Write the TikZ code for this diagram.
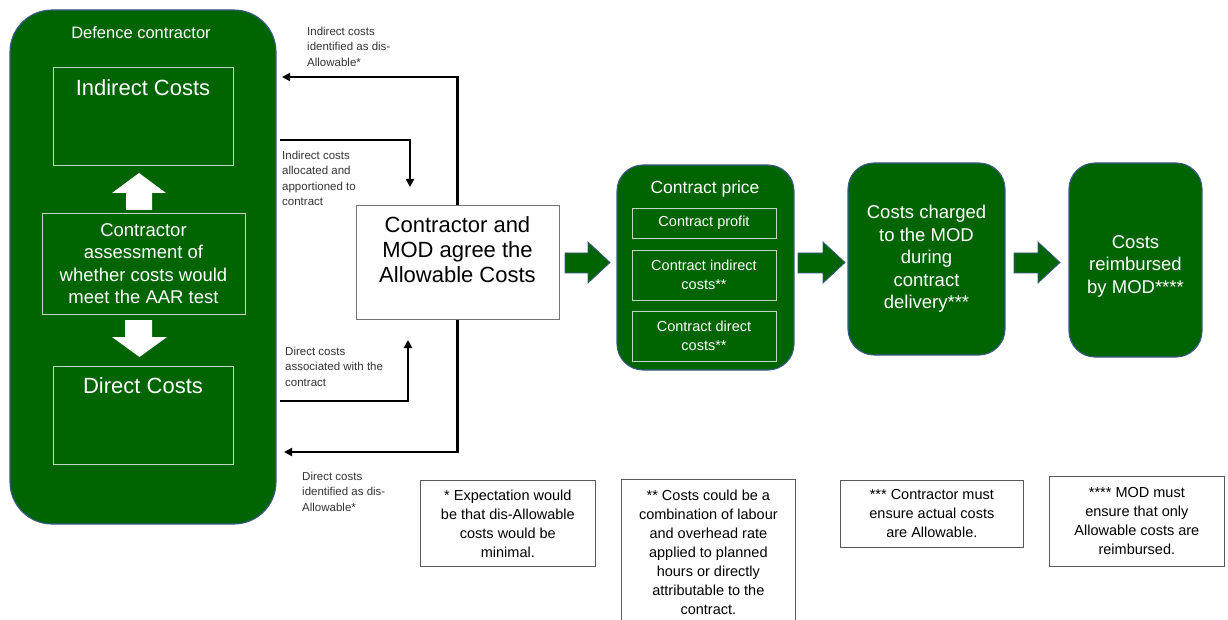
\documentclass[tikz,border=0pt]{standalone}
\usepackage{fontspec}
\setmainfont{Liberation Sans}
\usetikzlibrary{arrows.meta}
\definecolor{modgreen}{RGB}{0,100,0}
\definecolor{modedge}{RGB}{60,90,135}
\newcommand{\fs}[2]{\fontsize{#1}{#2}\selectfont}

\begin{document}
\begin{tikzpicture}[x=1pt, y=-1pt,
    greenbox/.style={draw=modedge, line width=1.1pt, fill=modgreen, rounded corners=26pt, text=white, align=center},
    innerbox/.style={draw=white!75!modgreen, line width=0.8pt, text=white, align=center, inner sep=0pt},
    notebox/.style={draw=black!65, line width=0.7pt, fill=white, align=center, anchor=north west, inner sep=0pt, font=\fs{14.5}{19}},
    flowlabel/.style={anchor=north west, align=left, inner sep=0pt, font=\fs{11.5}{15.5}, text=black!80},
    flowline/.style={line width=2.2pt, -{Triangle[length=8pt, width=8pt]}},
    blockarrow/.style={fill=modgreen, draw=modedge, line width=0.8pt}]
    \useasboundingbox (0,0) rectangle (1228,620);

    \node[greenbox, rounded corners=42pt, minimum width=266pt, minimum height=514pt] (contractor) at (143,267) {};
    \node[text=white, font=\fs{16.5}{20}, anchor=base] (contractortitle) at (141,39) {Defence contractor};
    \node[innerbox, minimum width=180pt, minimum height=98pt] (indirect) at (143,116) {};
    \node[text=white, font=\fs{22}{26}, anchor=base] (indirecttitle) at (143,96) {Indirect Costs};
    \node[innerbox, minimum width=203pt, minimum height=101pt, font=\fs{18.5}{22.5}] (assess) at (143.5,263.5) {Contractor\\assessment of\\whether costs would\\meet the AAR test};
    \node[innerbox, minimum width=180pt, minimum height=98pt] (direct) at (143,415) {};
    \node[text=white, font=\fs{22}{26}, anchor=base] (directtitle) at (143,393) {Direct Costs};
    \fill[white] (139,173) -- (166,193) -- (152,193) -- (152,210) -- (126,210) -- (126,193) -- (112,193) -- cycle;
    \fill[white] (139.5,357) -- (167,337) -- (152,337) -- (152,320) -- (125,320) -- (125,337) -- (112,337) -- cycle;

    \node[draw=black!55, line width=0.7pt, fill=white, minimum width=203pt, minimum height=114pt] (agree) at (457.5,262.5) {};
    \node[anchor=north, align=center, inner sep=0pt, font=\fs{22}{25}] (agreetext) at (457.5,216) {Contractor and\\MOD agree the\\Allowable Costs};

    \coordinate (disindirect) at (282,77);
    \coordinate (allocstart) at (280,140);
    \coordinate (allocend) at (410,187);
    \coordinate (assocstart) at (280,401);
    \coordinate (assocend) at (408,340);
    \coordinate (disdirect) at (284,452);
    \draw[flowline] (agree.north) |- (disindirect);
    \draw[flowline] (allocstart) -| (allocend);
    \draw[flowline] (assocstart) -| (assocend);
    \draw[flowline] (agree.south) |- (disdirect);
    \node[flowlabel] (disindirectlabel) at (307,26.5) {Indirect costs\\identified as dis-\\Allowable*};
    \node[flowlabel] (alloclabel) at (282,150.5) {Indirect costs\\allocated and\\apportioned to\\contract};
    \node[flowlabel] (assoclabel) at (285,346.5) {Direct costs\\associated with the\\contract};
    \node[flowlabel] (disdirectlabel) at (302,471.5) {Direct costs\\identified as dis-\\Allowable*};

    \filldraw[blockarrow] (565,253) -- (588,253) -- (588,242) -- (610,262.5) -- (588,283) -- (588,273) -- (565,273) -- cycle;
    \filldraw[blockarrow] (798,253) -- (823,253) -- (823,242) -- (845,262.5) -- (823,283) -- (823,273) -- (798,273) -- cycle;
    \filldraw[blockarrow] (1014,253) -- (1038,253) -- (1038,242) -- (1060,262.5) -- (1038,283) -- (1038,273) -- (1014,273) -- cycle;

    \node[greenbox, minimum width=177pt, minimum height=205pt] (price) at (705.5,267.5) {};
    \node[text=white, font=\fs{17.5}{21}, anchor=base] (pricetitle) at (705,194) {Contract price};
    \node[innerbox, minimum width=144pt, minimum height=30pt, font=\fs{14.5}{19}] (profit) at (704,223) {Contract profit};
    \node[innerbox, minimum width=144pt, minimum height=50pt, font=\fs{14.5}{19}] (priceindirect) at (704,275) {Contract indirect\\costs**};
    \node[innerbox, minimum width=144pt, minimum height=50pt, font=\fs{14.5}{19}] (pricedirect) at (704,336) {Contract direct\\costs**};

    \node[greenbox, minimum width=157pt, minimum height=192pt, font=\fs{18.5}{22.5}] (charged) at (926.5,259) {Costs charged\\to the MOD\\during\\contract\\delivery***};
    \node[greenbox, minimum width=133pt, minimum height=194pt] (reimbursed) at (1135.5,260) {};
    \node[text=white, align=center, font=\fs{18.5}{22.5}] (reimbursedtext) at (1135.5,266) {Costs\\reimbursed\\by MOD****};

    \node[notebox, minimum width=175pt, minimum height=86pt] (note1) at (420,480) {* Expectation would\\be that dis-Allowable\\costs would be\\minimal.};
    \node[notebox, minimum width=174pt, minimum height=146pt] (note2) at (621,479) {** Costs could be a\\combination of labour\\and overhead rate\\applied to planned\\hours or directly\\attributable to the\\contract.};
    \node[notebox, minimum width=183pt, minimum height=67pt] (note3) at (840,480) {*** Contractor must\\ensure actual costs\\are Allowable.};
    \node[notebox, minimum width=175pt, minimum height=90pt] (note4) at (1049,476) {**** MOD must\\ensure that only\\Allowable costs are\\reimbursed.};
\end{tikzpicture}
\end{document}
